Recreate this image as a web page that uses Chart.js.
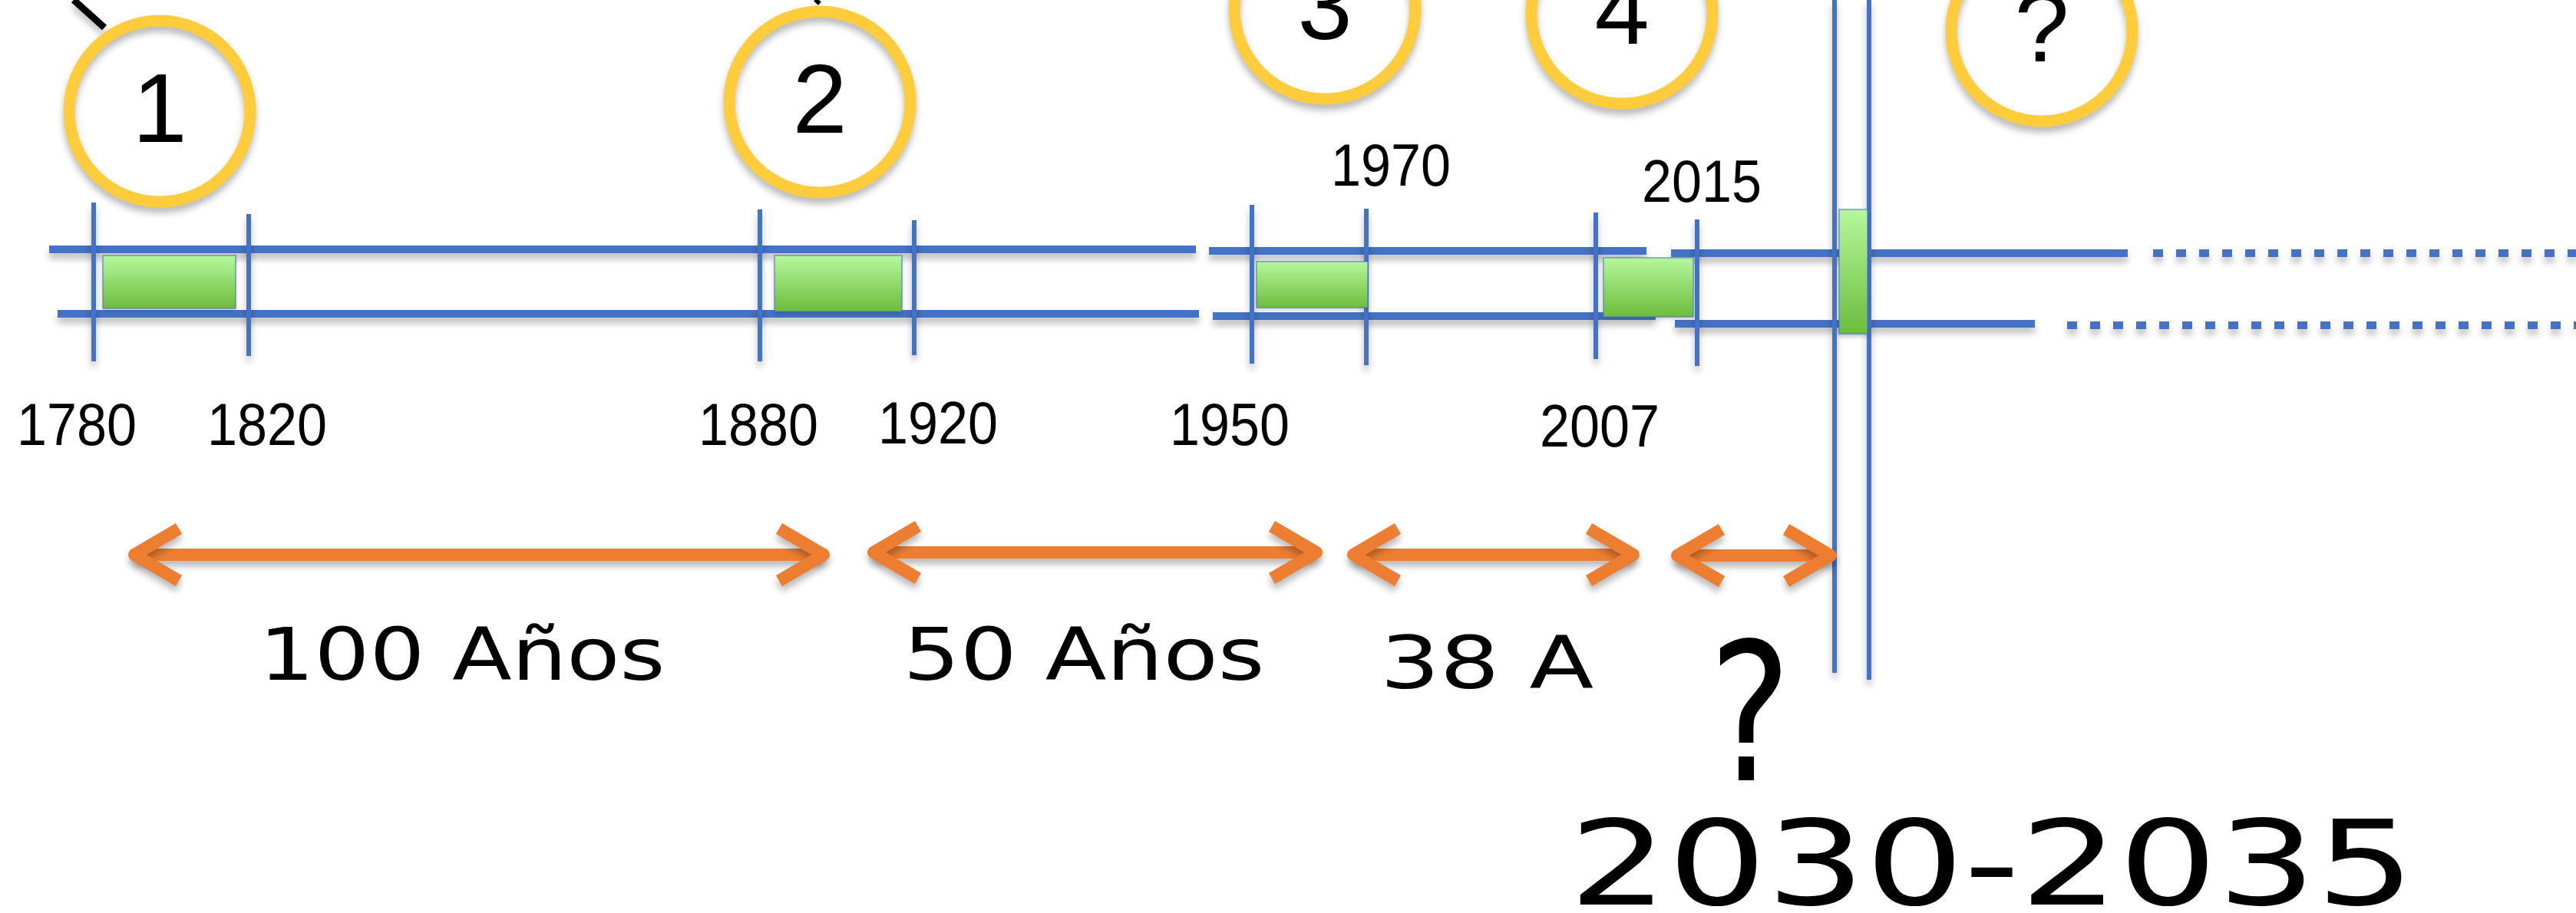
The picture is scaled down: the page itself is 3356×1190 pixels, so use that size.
<!DOCTYPE html>
<html>
<head>
<meta charset="utf-8">
<script src="https://cdn.jsdelivr.net/npm/chart.js@4.4.0/dist/chart.umd.min.js"></script>
<style>
  html, body { margin: 0; padding: 0; background: #fff; overflow: hidden; }
  canvas { display: block; }
</style>
</head>
<body>
<canvas id="timeline" width="3356" height="1190"></canvas>
<script>
// etapas (circulos numerados)
const eraLabels = ['1', '2', '3', '4', '?'];
const eraX = [208, 1068, 1726, 2113, 2660];
const eraY = [145, 133, 11, 17, 40];

// años marcados sobre la linea de tiempo
const years = ['1780', '1820', '1880', '1920', '1950', '1970', '2007', '2015'];
const yearX = [122, 324, 990, 1191, 1631, 1780, 2079, 2211];
const tickTop = [264, 279, 273, 287, 267, 272, 277, 286];
const tickBottom = [471, 464, 471, 463, 474, 476, 468, 477];
const yearLabelX = [100, 348, 988, 1222, 1602, 1812, 2084, 2217];
const yearLabelY = [580, 580, 580, 578, 580, 242, 582, 263];

// tramos de las dos lineas azules [inicio, fin, altura]
const upperSegments = [[64, 1558, 325], [1575, 2145, 327], [2177, 2772, 330]];
const lowerSegments = [[75, 1562, 409], [1580, 2157, 412], [2182, 2651, 422]];
const upperDotted = [2805, 3356, 330];
const lowerDotted = [2693, 3356, 424];
const nowLinesX = [2390, 2435];
const nowLinesEnd = [877, 886];

// periodos de revolucion (cajas verdes) [x1, x2, y1, y2]
const periods = [
  [134, 307, 333, 402],
  [1009, 1175, 333, 406],
  [1637, 1782, 341, 401],
  [2089, 2206, 336, 413],
  [2396, 2433, 273, 435],
];

// intervalos (flechas naranjas)
const spanStart = [167, 1130, 1755, 2177];
const spanEnd = [1081, 1723, 2136, 2393];
const spanY = [723, 720, 723, 724];
const spanLabels = ['100 Años', '50 Años', '38 A'];
const spanLabelX = [602, 1412, 1937];
const spanLabelY = [886, 886, 897];
const spanLabelW = [529, 471, 278];

const BLUE = '#4472C4';
const ORANGE = '#ED7D31';
const YELLOW = '#FFCD3C';

const lineDs = (points, color, width, extra = {}) => ({
  data: points,
  showLine: true,
  borderColor: color,
  borderWidth: width,
  pointRadius: 0,
  fill: false,
  clip: false,
  borderCapStyle: 'butt',
  ...extra,
});

// se dibujan de abajo hacia arriba (luego se invierte)
const layers = [];

// trazos negros arriba
layers.push(lineDs([{ x: 96, y: 0 }, { x: 136, y: 36 }], '#000', 9));
layers.push(lineDs([{ x: 1067, y: 0 }, { x: 1063, y: 4 }], '#000', 8));

upperSegments.concat(lowerSegments).forEach(([a, b, y]) => {
  layers.push(lineDs([{ x: a, y }, { x: b, y }], BLUE, 10));
});
[upperDotted, lowerDotted].forEach(([a, b, y]) => {
  layers.push(lineDs([{ x: a, y }, { x: b, y }], BLUE, 10, { borderDash: [13, 17] }));
});

yearX.forEach((x, i) => {
  layers.push(lineDs([{ x, y: tickTop[i] }, { x, y: tickBottom[i] }], BLUE, 6));
});

nowLinesX.forEach((x, i) => {
  layers.push(lineDs([{ x, y: 0 }, { x, y: nowLinesEnd[i] }], BLUE, 6));
});

// flechas dobles
spanStart.forEach((s, i) => {
  const e = spanEnd[i], y = spanY[i];
  const head = { borderJoinStyle: 'round' };
  layers.push(lineDs([{ x: s + 8, y }, { x: e - 8, y }], ORANGE, 16));
  layers.push(lineDs([{ x: s + 66, y: y - 34 }, { x: s + 8, y }, { x: s + 66, y: y + 34 }], ORANGE, 16, head));
  layers.push(lineDs([{ x: e - 66, y: y - 34 }, { x: e - 8, y }, { x: e - 66, y: y + 34 }], ORANGE, 16, head));
});

// circulos
layers.push({
  data: eraX.map((x, i) => ({ x, y: eraY[i] })),
  showLine: false,
  clip: false,
  pointRadius: 118,
  pointBorderWidth: 15,
  pointBorderColor: YELLOW,
  pointBackgroundColor: 'rgba(255,255,255,0)',
});

const shadowPlugin = {
  id: 'shadow',
  beforeDatasetsDraw(chart) {
    const c = chart.ctx;
    c.save();
    c.shadowColor = 'rgba(0,0,0,0.28)';
    c.shadowBlur = 10;
    c.shadowOffsetY = 7;
  },
  afterDatasetsDraw(chart) {
    chart.ctx.restore();
  },
};

const boxPlugin = {
  id: 'periods',
  afterDatasetsDraw(chart) {
    const { ctx, scales: { x, y } } = chart;
    periods.forEach(([x1, x2, y1, y2]) => {
      const px1 = x.getPixelForValue(x1), px2 = x.getPixelForValue(x2);
      const py1 = y.getPixelForValue(y1), py2 = y.getPixelForValue(y2);
      const g = ctx.createLinearGradient(0, py1, 0, py2);
      g.addColorStop(0, '#B6F89C');
      g.addColorStop(1, '#6CBD3C');
      ctx.save();
      ctx.shadowColor = 'rgba(0,0,0,0.2)';
      ctx.shadowBlur = 6;
      ctx.shadowOffsetY = 3;
      ctx.fillStyle = g;
      ctx.fillRect(px1, py1, px2 - px1, py2 - py1);
      ctx.shadowColor = 'transparent';
      ctx.strokeStyle = 'rgba(68,114,196,0.7)';
      ctx.lineWidth = 1.5;
      ctx.strokeRect(px1, py1, px2 - px1, py2 - py1);
      ctx.restore();
    });
  },
};

function drawText(ctx, text, cx, baseline, font, targetWidth) {
  ctx.save();
  ctx.font = font;
  const w = ctx.measureText(text).width;
  ctx.translate(cx, baseline);
  if (targetWidth) ctx.scale(targetWidth / w, 1);
  ctx.textAlign = 'center';
  ctx.textBaseline = 'alphabetic';
  ctx.fillStyle = '#000';
  ctx.fillText(text, 0, 0);
  ctx.restore();
}

const HAND = "'DejaVu Sans Condensed', 'DejaVu Sans', sans-serif";

const textPlugin = {
  id: 'labels',
  afterDraw(chart) {
    const { ctx, scales: { x, y } } = chart;
    eraLabels.forEach((t, i) => {
      drawText(ctx, t, x.getPixelForValue(eraX[i]), y.getPixelForValue(eraY[i] + 40), "128px 'Liberation Sans', Arial, sans-serif");
    });
    years.forEach((t, i) => {
      drawText(ctx, t, x.getPixelForValue(yearLabelX[i]), y.getPixelForValue(yearLabelY[i]), "78px 'Liberation Sans', Arial, sans-serif", 156);
    });
    spanLabels.forEach((t, i) => {
      drawText(ctx, t, x.getPixelForValue(spanLabelX[i]), y.getPixelForValue(spanLabelY[i]), '500 94px ' + HAND, spanLabelW[i]);
    });
    drawText(ctx, '?', x.getPixelForValue(2280), y.getPixelForValue(1017), '250px ' + HAND, 107);
    drawText(ctx, '2030-2035', x.getPixelForValue(2595), y.getPixelForValue(1179), '154px ' + HAND, 1102);
  },
};

new Chart(document.getElementById('timeline').getContext('2d'), {
  type: 'scatter',
  data: { datasets: layers.reverse() },
  options: {
    responsive: false,
    animation: false,
    devicePixelRatio: 1,
    events: [],
    layout: { padding: 0, autoPadding: false },
    plugins: {
      legend: { display: false },
      tooltip: { enabled: false },
    },
    scales: {
      x: { type: 'linear', min: 0, max: 3356, display: false },
      y: { type: 'linear', min: 0, max: 1190, reverse: true, display: false },
    },
  },
  plugins: [shadowPlugin, boxPlugin, textPlugin],
});
</script>
</body>
</html>
